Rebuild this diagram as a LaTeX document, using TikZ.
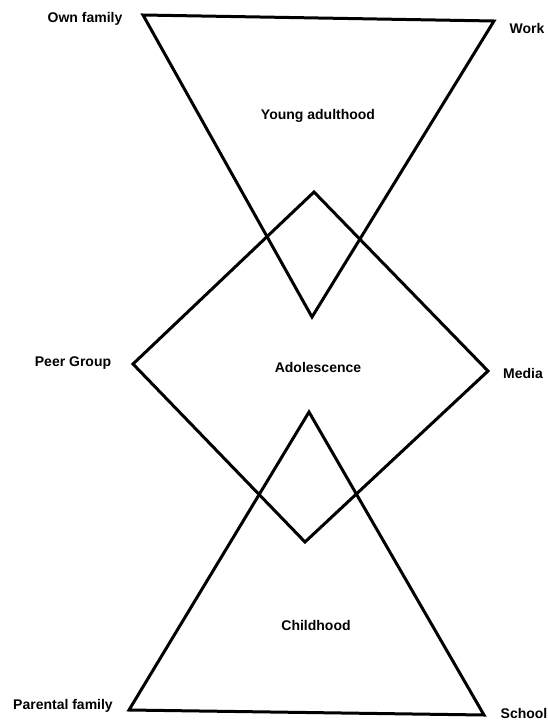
\documentclass[tikz,border=0pt]{standalone}
\usepackage{fontspec}
\setmainfont{Liberation Sans}
\begin{document}
\begin{tikzpicture}[x=1pt,y=-1pt,line width=3pt,line join=miter,
  lab/.style={font=\bfseries\fontsize{14}{16}\selectfont,inner sep=0pt}]
\useasboundingbox (0,0) rectangle (547,723);

% corners
\coordinate (ya_l) at (143,15);
\coordinate (ya_r) at (494,21);
\coordinate (ya_b) at (312,317);
\coordinate (ad_t) at (314,192);
\coordinate (ad_l) at (133,364);
\coordinate (ad_r) at (488,371);
\coordinate (ad_b) at (305,542);
\coordinate (ch_t) at (309,412);
\coordinate (ch_l) at (129,710);
\coordinate (ch_r) at (484,715);

% stages
\draw (ya_l) -- (ya_r) -- (ya_b) -- cycle;
\draw (ad_t) -- (ad_r) -- (ad_b) -- (ad_l) -- cycle;
\draw (ch_t) -- (ch_r) -- (ch_l) -- cycle;

% labels
\node[lab] (young) at (318,116) {Young adulthood};
\node[lab] (adol) at (318,367) {Adolescence};
\node[lab] (child) at (316,625) {Childhood};

\node[lab] (ownfam) at (85,19) {Own family};
\node[lab] (work) at (527,28) {Work};
\node[lab] (peer) at (73,363) {Peer Group};
\node[lab] (media) at (523,373) {Media};
\node[lab] (parfam) at (63,706) {Parental family};
\node[lab] (school) at (524,713) {School};

\end{tikzpicture}
\end{document}
